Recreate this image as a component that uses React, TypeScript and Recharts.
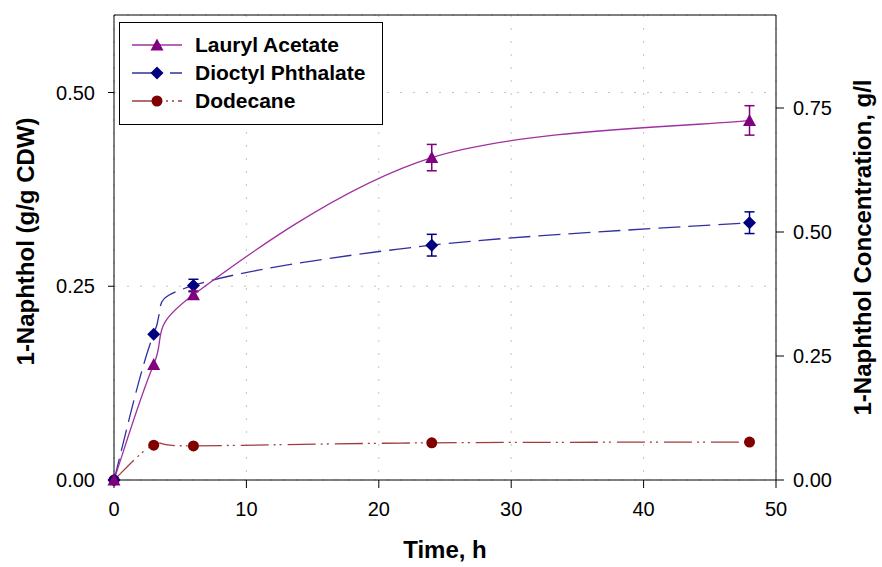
import React from "react";
import {
  ComposedChart,
  Line,
  XAxis,
  YAxis,
  CartesianGrid,
  ReferenceLine,
  ErrorBar,
  Legend,
} from "recharts";

// time points and measured values
const hours = [0, 3, 6, 24, 48];
const lauryl = [0, 0.149, 0.239, 0.416, 0.464];
const laurylErr = [0, 0, 0.005, 0.017, 0.019];
const dioctyl = [0, 0.188, 0.251, 0.303, 0.332];
const dioctylErr = [0, 0, 0.008, 0.014, 0.014];
const dodecane = [0, 0.045, 0.044, 0.048, 0.049];
const dodecaneErr = [0, 0, 0, 0, 0];

const xTicks = [0, 10, 20, 30, 40, 50];
const leftTicks = [0, 0.25, 0.5];
const rightTicks = [0, 0.25, 0.5, 0.75];

const data = hours.map((h, i) => ({
  h,
  la: lauryl[i],
  laErr: laurylErr[i],
  dp: dioctyl[i],
  dpErr: dioctylErr[i],
  dd: dodecane[i],
  ddErr: dodecaneErr[i],
}));

const FONT = "'Liberation Sans', Arial, sans-serif";

const PURPLE = "#800080";
const NAVY = "#000080";
const MAROON = "#800000";

const DP_DASH = "22 8";
const DD_DASH = "28 5 2 4 2 6";

// spreadsheet style smoothing (catmull-rom through every point)
const smoothCurve = (context: any) => {
  let pts: number[][] = [];
  return {
    areaStart() {},
    areaEnd() {},
    lineStart() {
      pts = [];
    },
    point(x: number, y: number) {
      pts.push([+x, +y]);
    },
    lineEnd() {
      if (!pts.length) return;
      context.moveTo(pts[0][0], pts[0][1]);
      for (let i = 0; i < pts.length - 1; i++) {
        const p0 = pts[i - 1] || pts[i];
        const p1 = pts[i];
        const p2 = pts[i + 1];
        const p3 = pts[i + 2] || pts[i + 1];
        context.bezierCurveTo(
          p1[0] + (p2[0] - p0[0]) / 6,
          p1[1] + (p2[1] - p0[1]) / 6,
          p2[0] - (p3[0] - p1[0]) / 6,
          p2[1] - (p3[1] - p1[1]) / 6,
          p2[0],
          p2[1]
        );
      }
    },
  };
};

const Triangle = ({ cx, cy, color }: any) => (
  <polygon
    points={`${cx},${cy - 6.5} ${cx - 6.5},${cy + 5.5} ${cx + 6.5},${cy + 5.5}`}
    fill={color}
  />
);
const Diamond = ({ cx, cy, color }: any) => (
  <polygon
    points={`${cx},${cy - 6.5} ${cx + 6.5},${cy} ${cx},${cy + 6.5} ${cx - 6.5},${cy}`}
    fill={color}
  />
);
const Dot = ({ cx, cy, color }: any) => <circle cx={cx} cy={cy} r={5.5} fill={color} />;

const legendItems = [
  { name: "Lauryl Acetate", line: "#a030a0", color: PURPLE, dash: undefined, M: Triangle },
  { name: "Dioctyl Phthalate", line: "#3030a0", color: NAVY, dash: "30 8", M: Diamond },
  { name: "Dodecane", line: "#a03c3c", color: MAROON, dash: "30 4 2 4 2 4", M: Dot },
];

function ChartLegend() {
  return (
    <svg width={265} height={104} style={{ display: "block" }}>
      <rect x={0.5} y={0.5} width={263} height={102} fill="#fff" stroke="#000" />
      {legendItems.map((it, i) => {
        const y = 23 + i * 28;
        return (
          <g key={it.name}>
            <line x1={13} x2={63} y1={y} y2={y} stroke={it.line} strokeWidth={1.3} strokeDasharray={it.dash} />
            <it.M cx={38} cy={y} color={it.color} />
            <text x={76} y={y} dy="0.35em" fontFamily={FONT} fontSize={21} fontWeight="bold" fill="#000">
              {it.name}
            </text>
          </g>
        );
      })}
    </svg>
  );
}

export default function App() {
  return (
    <div style={{ position: "absolute", left: 0, top: 0, background: "#fff" }}>
      <ComposedChart
        width={882}
        height={567}
        data={data}
        margin={{ top: 15, right: 0, bottom: 0, left: 0 }}
        style={{ fontFamily: FONT }}
      >
        <CartesianGrid
          yAxisId="left"
          stroke="#c4c4c4"
          strokeDasharray="2 11"
        />
        <XAxis
          dataKey="h"
          type="number"
          domain={[0, 50]}
          ticks={xTicks}
          height={87}
          tickSize={8}
          tickMargin={14}
          stroke="#000"
          tick={{ fill: "#000", fontSize: 20 }}
          label={{ value: "Time, h", position: "center", dy: 26, fontSize: 24, fontWeight: "bold", fill: "#000" }}
        />
        <YAxis
          yAxisId="left"
          type="number"
          domain={[0, 0.6]}
          ticks={leftTicks}
          width={114}
          tickSize={6}
          tickMargin={13}
          stroke="#000"
          tick={{ fill: "#000", fontSize: 20 }}
          tickFormatter={(v: number) => v.toFixed(2)}
          label={{ value: "1-Naphthol (g/g CDW)", angle: -90, position: "center", dx: -32, dy: -6, fontSize: 24, fontWeight: "bold", fill: "#000" }}
        />
        <YAxis
          yAxisId="right"
          orientation="right"
          type="number"
          domain={[0, 0.9375]}
          ticks={rightTicks}
          width={106}
          tickSize={8}
          tickMargin={9}
          stroke="#000"
          tick={{ fill: "#000", fontSize: 20 }}
          tickFormatter={(v: number) => v.toFixed(2)}
          label={{ value: "1-Naphthol Concentration, g/l", angle: -90, position: "center", dx: 33, fontSize: 24, fontWeight: "bold", fill: "#000" }}
        />
        <ReferenceLine yAxisId="left" y={0.6} stroke="#000" />
        <Legend
          layout="vertical"
          align="center"
          verticalAlign="middle"
          content={() => <ChartLegend />}
          wrapperStyle={{ position: "absolute", left: 119, top: 22, width: 265, height: 104 }}
        />
        {/* keeps the concentration axis bound to the data */}
        <Line
          yAxisId="right"
          dataKey="dd"
          stroke="none"
          dot={false}
          activeDot={false}
          legendType="none"
          isAnimationActive={false}
        />
        <Line
          yAxisId="left"
          type={smoothCurve as any}
          dataKey="dd"
          name="Dodecane"
          stroke="#a03c3c"
          strokeWidth={1.3}
          strokeDasharray={DD_DASH}
          isAnimationActive={false}
          activeDot={false}
          dot={(p: any) => <Dot key={`dd${p.index}`} cx={p.cx} cy={p.cy} color={MAROON} />}
        >
          <ErrorBar dataKey="ddErr" width={5} stroke={MAROON} direction="y" />
        </Line>
        <Line
          yAxisId="left"
          type={smoothCurve as any}
          dataKey="dp"
          name="Dioctyl Phthalate"
          stroke="#3030a0"
          strokeWidth={1.3}
          strokeDasharray={DP_DASH}
          isAnimationActive={false}
          activeDot={false}
          dot={(p: any) => <Diamond key={`dp${p.index}`} cx={p.cx} cy={p.cy} color={NAVY} />}
        >
          <ErrorBar dataKey="dpErr" width={5} stroke={NAVY} direction="y" />
        </Line>
        <Line
          yAxisId="left"
          type={smoothCurve as any}
          dataKey="la"
          name="Lauryl Acetate"
          stroke="#a030a0"
          strokeWidth={1.3}
          isAnimationActive={false}
          activeDot={false}
          dot={(p: any) => <Triangle key={`la${p.index}`} cx={p.cx} cy={p.cy} color={PURPLE} />}
        >
          <ErrorBar dataKey="laErr" width={5} stroke={PURPLE} direction="y" />
        </Line>
      </ComposedChart>
    </div>
  );
}
